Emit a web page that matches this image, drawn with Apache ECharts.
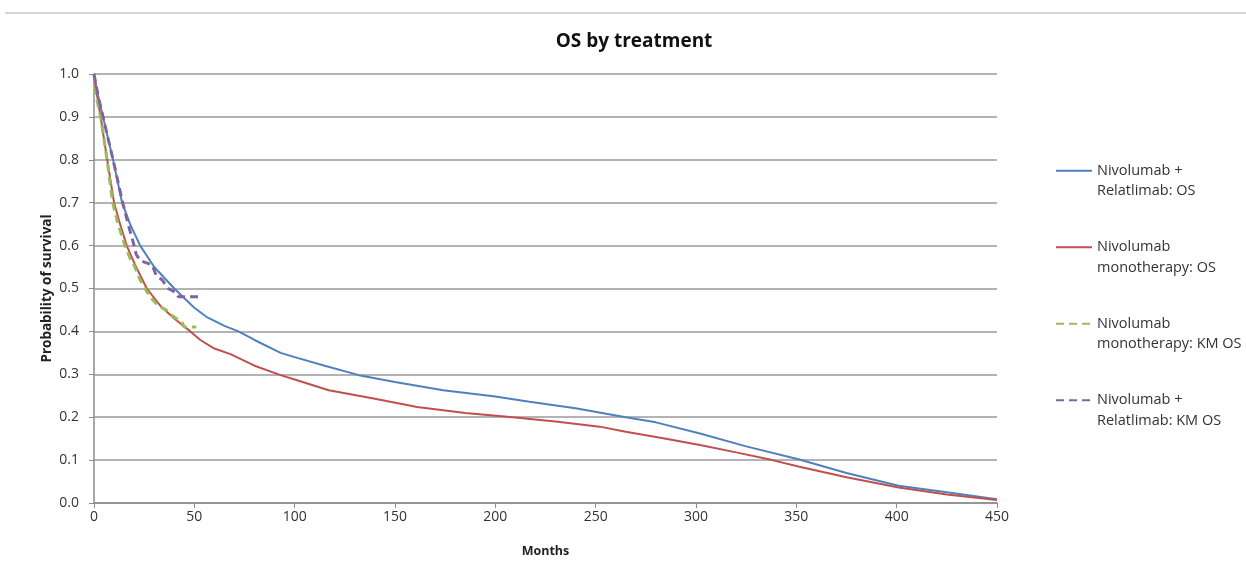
<!DOCTYPE html>
<html>
<head>
<meta charset="utf-8">
<script src="https://cdn.jsdelivr.net/npm/echarts@6/dist/echarts.min.js"></script>
<style>
  html, body { margin: 0; padding: 0; background: #ffffff; }
  #chart { width: 1246px; height: 573px; }
</style>
</head>
<body>
<div id="chart"></div>
<script>
// Modelled overall survival (months -> probability)
const nrMonths = [0, 2, 4.5, 9.5, 14, 18, 23, 30, 40, 50, 56, 65, 72, 80, 93, 100, 115, 132, 150, 174, 200, 217, 240, 265, 280, 302, 325, 351, 375, 401, 425, 450];
const nrSurvival = [1.0, 0.95, 0.9, 0.8, 0.7, 0.65, 0.6, 0.55, 0.5, 0.455, 0.434, 0.413, 0.40, 0.38, 0.35, 0.34, 0.32, 0.298, 0.282, 0.263, 0.248, 0.236, 0.221, 0.200, 0.188, 0.162, 0.132, 0.102, 0.07, 0.040, 0.025, 0.009];

const nMonths = [0, 1.5, 3.3, 6.6, 10, 13, 16.3, 21, 26.3, 33, 40, 48, 53, 60, 68, 80, 93, 100, 117, 140, 161, 185, 206, 230, 252, 265, 285, 302, 320, 338, 351, 375, 401, 425, 450];
const nSurvival = [1.0, 0.95, 0.9, 0.8, 0.7, 0.65, 0.6, 0.55, 0.5, 0.46, 0.43, 0.40, 0.38, 0.36, 0.347, 0.32, 0.298, 0.288, 0.263, 0.243, 0.224, 0.21, 0.201, 0.19, 0.178, 0.166, 0.15, 0.135, 0.118, 0.100, 0.085, 0.06, 0.036, 0.02, 0.007];

// Kaplan-Meier observed survival
const nKmMonths = [0, 1, 3.3, 6.5, 9.3, 12, 15.4, 18, 20.4, 23, 25.4, 28, 32, 36, 38, 41, 44, 45, 51];
const nKmSurvival = [1.0, 0.95, 0.9, 0.8, 0.7, 0.65, 0.6, 0.57, 0.55, 0.52, 0.5, 0.48, 0.46, 0.45, 0.44, 0.43, 0.42, 0.41, 0.41];

const nrKmMonths = [0, 2, 4.5, 9.5, 14.3, 17, 20, 21, 23, 29, 31, 34, 37, 41, 42, 52];
const nrKmSurvival = [1.0, 0.95, 0.9, 0.8, 0.7, 0.65, 0.6, 0.58, 0.565, 0.555, 0.53, 0.52, 0.5, 0.49, 0.481, 0.481];

const seriesNames = [
  'Nivolumab +\nRelatlimab: OS',
  'Nivolumab\nmonotherapy: OS',
  'Nivolumab\nmonotherapy: KM OS',
  'Nivolumab +\nRelatlimab: KM OS'
];

const xTicks = [0, 50, 100, 150, 200, 250, 300, 350, 400, 450];
const yTicks = [0, 0.1, 0.2, 0.3, 0.4, 0.5, 0.6, 0.7, 0.8, 0.9, 1.0];

const zip = (xs, ys) => xs.map((x, i) => [x, ys[i]]);

const FONT = 'Open Sans';
const chart = echarts.init(document.getElementById('chart'), null, { renderer: 'canvas' });

function lineSeries(name, data, color, dashed) {
  return {
    name: name,
    type: 'line',
    data: data,
    showSymbol: false,
    symbol: 'none',
    smooth: false,
    lineStyle: {
      color: color,
      width: dashed ? 3 : 2,
      type: dashed ? [8, 5] : 'solid'
    },
    itemStyle: { color: color },
    z: dashed ? 3 : 2
  };
}

chart.setOption({
  animation: false,
  backgroundColor: '#ffffff',
  title: {
    text: 'OS by treatment',
    left: 629,
    top: 27,
    textAlign: 'center',
    textStyle: { fontFamily: FONT, fontSize: 19, fontWeight: 'bold', color: '#111111' }
  },
  graphic: [{
    type: 'line',
    shape: { x1: 5, y1: 13, x2: 1246, y2: 13 },
    style: { stroke: '#c8c8c8', lineWidth: 1.5 }
  }],
  legend: {
    orient: 'vertical',
    left: 1055,
    top: 140,
    padding: 0,
    itemGap: 15,
    itemWidth: 36,
    itemHeight: 10,
    data: seriesNames,
    itemStyle: { opacity: 0 },
    // leading blank line keeps the first text line level with the key line
    formatter: name => ' \n' + name,
    textStyle: {
      fontFamily: FONT,
      fontSize: 14.5,
      color: '#333333',
      lineHeight: 20.5
    }
  },
  grid: { left: 94, right: 249, top: 74, bottom: 70, containLabel: false },
  xAxis: {
    type: 'value',
    min: 0,
    max: 450,
    interval: 50,
    name: 'Months',
    nameLocation: 'middle',
    nameGap: 42,
    nameTextStyle: { fontFamily: FONT, fontSize: 12.5, fontWeight: 'bold', color: '#222222' },
    axisLine: { show: true, lineStyle: { color: '#8c8c8c', width: 1.5 } },
    axisTick: { show: true, length: 5, lineStyle: { color: '#8c8c8c' } },
    axisLabel: {
      margin: 7,
      fontFamily: FONT, fontSize: 14, color: '#333333',
      formatter: v => xTicks.includes(v) ? String(v) : ''
    },
    splitLine: { show: false }
  },
  yAxis: {
    type: 'value',
    min: 0,
    max: 1,
    interval: 0.1,
    name: 'Probability of survival',
    nameLocation: 'middle',
    nameGap: 40,
    nameMoveOverlap: false,
    nameRotate: 90,
    nameTextStyle: { fontFamily: FONT, fontSize: 13.5, fontWeight: 'bold', color: '#222222' },
    axisLine: { show: true, lineStyle: { color: '#8c8c8c', width: 1.5 } },
    axisTick: { show: true, length: 5, lineStyle: { color: '#8c8c8c' } },
    axisLabel: {
      margin: 15,
      fontFamily: FONT, fontSize: 14, color: '#333333',
      formatter: v => {
        const t = yTicks.find(y => Math.abs(y - v) < 1e-9);
        return t === undefined ? '' : t.toFixed(1);
      }
    },
    splitLine: { show: true, lineStyle: { color: '#9a9a9a', width: 1.5 } }
  },
  series: [
    lineSeries(seriesNames[0], zip(nrMonths, nrSurvival), '#4F81BD', false),
    lineSeries(seriesNames[1], zip(nMonths, nSurvival), '#C0504D', false),
    lineSeries(seriesNames[2], zip(nKmMonths, nKmSurvival), '#9BBB59', true),
    lineSeries(seriesNames[3], zip(nrKmMonths, nrKmSurvival), '#8064A2', true)
  ]
});
</script>
</body>
</html>
